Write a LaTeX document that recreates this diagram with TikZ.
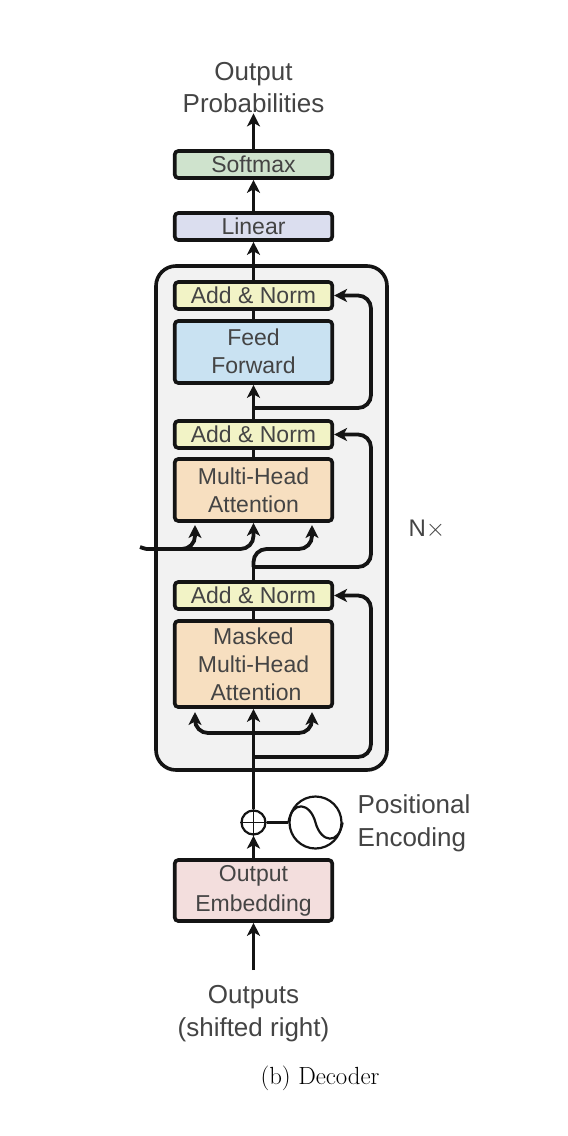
\documentclass[tikz,border=0pt]{standalone}
\usepackage{fontspec}
\newfontfamily\lab{Liberation Sans}
\usetikzlibrary{arrows.meta}
\definecolor{inkc}{HTML}{141414}
\definecolor{txtc}{HTML}{444444}
\definecolor{softc}{HTML}{CFE3CD}
\definecolor{linc}{HTML}{DBDEEF}
\definecolor{addc}{HTML}{F2F3C6}
\definecolor{ffc}{HTML}{C9E2F2}
\definecolor{mhac}{HTML}{F7DFC0}
\definecolor{embc}{HTML}{F3DEDD}
\definecolor{stackc}{HTML}{F2F2F2}
\tikzset{
  x=1pt,y=-1pt,
  blockbox/.style={draw=inkc,line width=3.6pt,rounded corners=3.5pt,minimum width=157.5pt,inner sep=0pt,align=center,text=txtc,
    font=\lab\fontsize{23}{28}\selectfont},
  stackbox/.style={draw=inkc,line width=3.6pt,rounded corners=20pt,fill=stackc,minimum width=231pt,minimum height=504pt,inner sep=0pt},
  label/.style={inner sep=0pt,align=center,text=txtc,font=\lab\fontsize{26}{32}\selectfont},
  conn/.style={draw=inkc,line width=3.8pt,-{Stealth[length=13pt,width=13pt,inset=3.5pt]}},
  plainconn/.style={draw=inkc,line width=3.8pt},
  curveconn/.style={conn,rounded corners=13pt},
  thinc/.style={draw=inkc,line width=2.2pt},
}
\begin{document}
\begin{tikzpicture}
\useasboundingbox (0,0) rectangle (568,1136);
\node[stackbox] (stack) at (271.5,518) {};
% blocks
\node[blockbox,fill=softc,minimum height=27pt] (softmax) at (253.5,164.5) {\raisebox{-1pt}{Softmax}};
\node[blockbox,fill=linc,minimum height=27pt] (linear) at (253.5,226.5) {Linear};
\node[blockbox,fill=addc,minimum height=27pt] (an1) at (253.5,295.5) {Add \& Norm};
\node[blockbox,fill=ffc,minimum height=62pt] (ff) at (253.5,352) {\raisebox{1pt}{Feed}\\\raisebox{1pt}{Forward}};
\node[blockbox,fill=addc,minimum height=27pt] (an2) at (253.5,434.5) {Add \& Norm};
\node[blockbox,fill=mhac,minimum height=62pt] (mha) at (253.5,490) {Multi-Head\\Attention};
\node[blockbox,fill=addc,minimum height=27pt] (an3) at (253.5,595.5) {Add \& Norm};
\node[blockbox,fill=mhac,minimum height=86pt] (mmha) at (253.5,664) {Masked\\Multi-Head\\\hspace*{5pt}Attention};
\node[blockbox,fill=embc,minimum height=61pt,font=\lab\fontsize{23}{29}\selectfont] (emb) at (253.5,890.5) {\raisebox{-1pt}{Output}\\\raisebox{-2pt}{Embedding}};
% labels
\node[label] (outp) at (253.5,88) {Output\\Probabilities};
\node[label,font=\lab\fontsize{26}{33}\selectfont] (inp) at (253.5,1014) {Outputs\\(shifted right)};
\node[label,align=left,anchor=west,font=\lab\fontsize{26}{33}\selectfont] (pos) at (357.5,823) {Positional\\Encoding};
\node[label,font=\lab\fontsize{24}{28}\selectfont] (nx) at (427,529) {N$\times$};
\node[inner sep=0pt,font=\fontsize{24.8}{28}\selectfont] (cap) at (320,1078) {(b) Decoder};
% add and sine
\node[circle,draw=inkc,line width=2.2pt,fill=white,minimum size=24pt,inner sep=0pt] (plus) at (253.5,822.5) {};
\node[circle,draw=inkc,line width=2.2pt,fill=white,minimum size=52pt,inner sep=0pt] (sine) at (315.5,822.5) {};
\draw[inkc,line width=1.6pt] (plus.north) -- (plus.south) (plus.west) -- (plus.east);
\draw[thinc] (sine.west) .. controls (292,800) and (310,802) .. (sine.center) .. controls (321,843) and (339,845) .. (sine.east);
\draw[plainconn] (plus.east) -- (sine.west);
% coordinates
\coordinate (r1) at (253.5,408);
\coordinate (r2) at (253.5,567);
\coordinate (r3) at (253.5,757);
\coordinate (enc) at (140,547);
\coordinate (src) at (253.5,970);
\coordinate (mhaL) at (195,525);
\coordinate (mhaR) at (312,525);
\coordinate (mmL) at (195,712);
\coordinate (mmR) at (312,712);
% stems
\draw[conn] (softmax.north) -- (outp.south);
\draw[conn] (linear.north) -- (softmax.south);
\draw[conn] (an1.north) -- (linear.south);
\draw[plainconn] (ff.north) -- (an1.south);
\draw[conn] (an2.north) -- (ff.south);
\draw[plainconn] (mha.north) -- (an2.south);
\draw[plainconn] (an3.north) -- (r2);
\draw[plainconn] (mmha.north) -- (an3.south);
\draw[conn] (plus.north) -- (mmha.south);
\draw[conn] (emb.north) -- (plus.south);
\draw[conn] (src) -- (emb.south);
% residuals
\draw[curveconn] (r1) -- (371,408) -- (371,295.5) -- (an1.east);
\draw[curveconn] (r2) -- (371,567) -- (371,434.5) -- (an2.east);
\draw[curveconn] (r3) -- (371,757) -- (371,595.5) -- (an3.east);
% attention inputs
\draw[curveconn] (enc) .. controls (146,549) .. (160,549) -- (195,549) -- (mhaL);
\draw[curveconn] (160,549) -- (253.5,549) -- (mha.south);
\draw[curveconn] (r2) -- (253.5,549) -- (312,549) -- (mhaR);
\draw[curveconn] (253.5,733) -- (195,733) -- (mmL);
\draw[curveconn] (253.5,733) -- (312,733) -- (mmR);
\end{tikzpicture}
\end{document}
